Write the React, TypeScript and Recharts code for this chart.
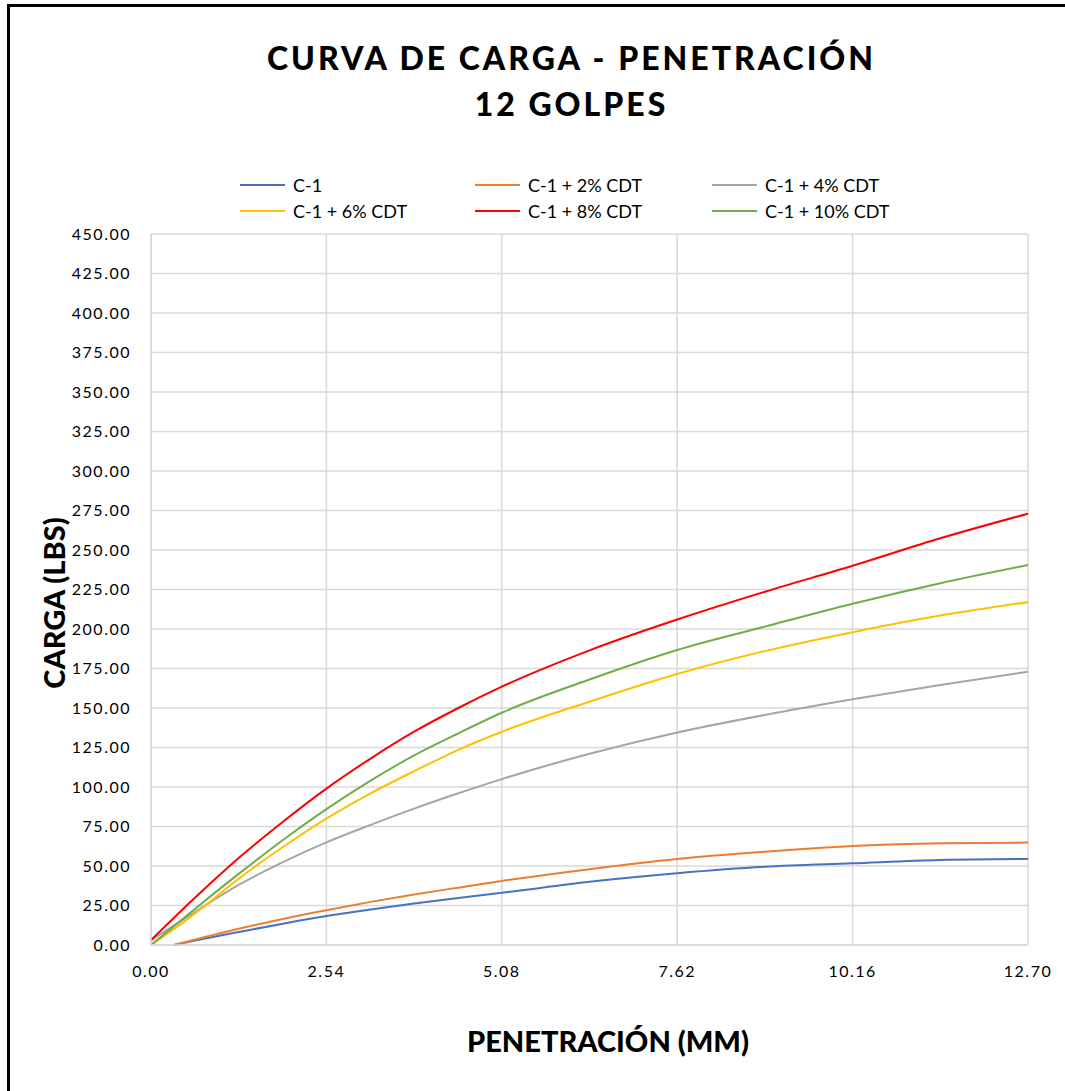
import React from "react";
import { LineChart, Line, XAxis, YAxis, CartesianGrid } from "recharts";

// penetración (mm)
const PEN = [0, 0.64, 1.27, 1.91, 2.54, 3.18, 3.81, 4.45, 5.08, 6.35, 7.62, 8.89, 10.16, 11.43, 12.7];
const PEN_LOW = [0.33, 0.64, 1.27, 1.91, 2.54, 3.18, 3.81, 4.45, 5.08, 6.35, 7.62, 8.89, 10.16, 11.43, 12.7];

// carga (lbs)
const C1 = [0, 2.8, 8.2, 13.5, 18.3, 22.5, 26.3, 29.8, 33, 40, 45.4, 49.5, 51.7, 53.8, 54.4];
const C1_2 = [0, 3.5, 10.3, 16.5, 22, 27.3, 32, 36.3, 40.5, 48, 54.4, 59, 62.6, 64.4, 64.8];
const C1_4 = [3, 21, 38, 52.5, 65, 76, 86.3, 96, 105, 121, 134.5, 145.6, 155.5, 164.6, 173];
const C1_6 = [0, 20, 42, 62, 80, 96, 110, 123.5, 135, 154, 171.5, 186, 198, 208.5, 217];
const C1_8 = [3, 30, 55, 78, 99, 118, 135, 150, 163.5, 186.5, 206, 223.6, 240, 257.4, 273];
const C1_10 = [0, 23, 45, 66.5, 86, 104, 120, 134, 147, 168, 186.7, 201.5, 216, 229, 240.5];

const X_TICKS = [0, 2.54, 5.08, 7.62, 10.16, 12.7];
const Y_TICKS = [0, 25, 50, 75, 100, 125, 150, 175, 200, 225, 250, 275, 300, 325, 350, 375, 400, 425, 450];

const SERIES = [
  { name: "C-1", color: "#4472C4", x: PEN_LOW, y: C1 },
  { name: "C-1 + 2% CDT", color: "#ED7D31", x: PEN_LOW, y: C1_2 },
  { name: "C-1 + 4% CDT", color: "#A5A5A5", x: PEN, y: C1_4 },
  { name: "C-1 + 6% CDT", color: "#FFC000", x: PEN, y: C1_6 },
  { name: "C-1 + 8% CDT", color: "#FF0000", x: PEN, y: C1_8 },
  { name: "C-1 + 10% CDT", color: "#70AD47", x: PEN, y: C1_10 },
];

const FONT = "Lato, 'Open Sans', sans-serif";
const LEGEND_COLS = [240, 475, 712];
const LEGEND_ROWS = [185, 211];

export default function App() {
  const tickStyle = { fontFamily: FONT, fontSize: 16, fill: "#000", letterSpacing: 1.5 };

  return (
    <div style={{ position: "relative", width: 1065, height: 1091, overflow: "hidden", background: "#fff", fontFamily: FONT }}>
      <style>{`body{margin:0;overflow:hidden;}`}</style>
      <div
        style={{
          position: "absolute",
          left: 7,
          top: 4,
          width: 1100,
          height: 1120,
          border: "3px solid #000",
        }}
      />

      <div
        style={{
          position: "absolute",
          left: 0,
          width: 1143,
          top: 35,
          textAlign: "center",
          fontWeight: 900,
          fontSize: 32,
          letterSpacing: 3,
          lineHeight: "46px",
        }}
      >
        CURVA DE CARGA - PENETRACIÓN
        <br />
        12 GOLPES
      </div>

      {SERIES.map((s, i) => {
        const col = LEGEND_COLS[i % 3];
        const row = LEGEND_ROWS[Math.floor(i / 3)];
        return (
          <div key={s.name} style={{ position: "absolute", left: col, top: row - 11, height: 22, display: "flex", alignItems: "center" }}>
            <span style={{ width: 45, height: 2, background: s.color, display: "inline-block" }} />
            <span style={{ marginLeft: 8, fontSize: 18, color: "#000" }}>{s.name}</span>
          </div>
        );
      })}

      <div style={{ position: "absolute", left: 0, top: 0 }}>
        <LineChart width={1065} height={1091} margin={{ top: 234, right: 37, bottom: 106, left: 0 }}>
          <CartesianGrid stroke="#d9d9d9" strokeWidth={1.5} />
          <XAxis
            dataKey="x"
            type="number"
            domain={[0, 12.7]}
            ticks={X_TICKS}
            tickFormatter={(v: number) => v.toFixed(2)}
            tick={tickStyle}
            tickLine={false}
            tickSize={0}
            tickMargin={21}
            height={40}
            axisLine={{ stroke: "#d9d9d9", strokeWidth: 1.5 }}
            allowDuplicatedCategory={false}
          />
          <YAxis
            type="number"
            domain={[0, 450]}
            ticks={Y_TICKS}
            tickFormatter={(v: number) => v.toFixed(2)}
            tick={tickStyle}
            tickLine={false}
            tickSize={0}
            tickMargin={20}
            width={151}
            axisLine={{ stroke: "#d9d9d9", strokeWidth: 1.5 }}
          />
          {SERIES.map((s) => (
            <Line
              key={s.name}
              name={s.name}
              data={s.x.map((p, i) => ({ x: p, y: s.y[i] }))}
              dataKey="y"
              type="monotone"
              stroke={s.color}
              strokeWidth={2}
              dot={false}
              isAnimationActive={false}
            />
          ))}
        </LineChart>
      </div>

      <div
        style={{
          position: "absolute",
          left: 53,
          top: 603,
          transform: "translate(-50%, -50%) rotate(-90deg)",
          fontWeight: 900,
          fontSize: 29,
          whiteSpace: "nowrap",
        }}
      >
        CARGA (LBS)
      </div>
      <div
        style={{
          position: "absolute",
          left: 608,
          top: 1040,
          transform: "translate(-50%, -50%)",
          fontWeight: 900,
          fontSize: 29,
          whiteSpace: "nowrap",
        }}
      >
        PENETRACIÓN (MM)
      </div>
    </div>
  );
}
